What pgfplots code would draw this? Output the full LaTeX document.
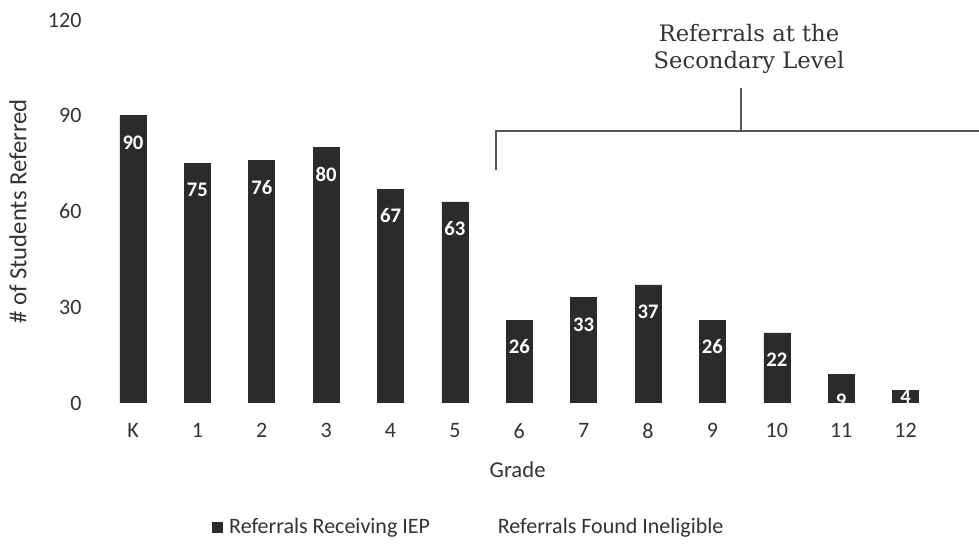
\documentclass[border=0pt]{standalone}
\usepackage{pgfplots}
\pgfplotsset{compat=1.18}
\usepackage{fontspec}
\setmainfont{Carlito}
\newfontfamily\annfont{DejaVu Serif}
\definecolor{barc}{HTML}{2B2B2B}
\definecolor{txt}{HTML}{333333}
\definecolor{brk}{HTML}{555555}
\begin{document}
\begin{tikzpicture}
\useasboundingbox (0,0) rectangle (734.25pt,411.75pt);
\begin{axis}[
 at={(75.6pt,109.5pt)}, anchor=south west,
 scale only axis, width=627.75pt, height=287.25pt,
 ybar, bar width=19.5pt, bar shift=0pt,
 xmin=-0.5, xmax=12.5, ymin=0, ymax=120,
 ytick={0,30,60,90,120},
 xtick={0,...,12},
 xticklabels={K,1,2,3,4,5,6,7,8,9,10,11,12},
 axis line style={draw=none},
 major tick length=0pt,
 /pgf/number format/assume math mode=true,
 tick label style={font=\fontsize{16.5}{19}\selectfont, text=txt},
 yticklabel style={xshift=-11pt},
 xticklabel style={yshift=-12pt},
 xlabel={Grade}, ylabel={\# of Students Referred},
 xlabel style={font=\fontsize{17}{20}\selectfont, text=txt, at={(axis description cs:0.498,-0.175)}, anchor=center},
 ylabel style={font=\fontsize{18.5}{21}\selectfont, text=txt, at={(axis description cs:-0.099,0.5)}, anchor=center},
 legend style={draw=none, at={(0.44,-0.324)}, anchor=center, legend columns=2,
   font=\fontsize{16.5}{19}\selectfont, text=txt,
   /tikz/every odd column/.append style={column sep=3pt},
   /tikz/every even column/.append style={column sep=36pt}},
 nodes near coords,
 every node near coord/.append style={font=\bfseries\fontsize{15.5}{18}\selectfont, text=white, anchor=center, yshift=-20pt},
]
\addplot[fill=barc, draw=barc,
  legend image code/.code={\fill[barc] (0pt,-3.75pt) rectangle (7.5pt,3.75pt);}]
  coordinates {(0,90)(1,75)(2,76)(3,80)(4,67)(5,63)(6,26)(7,33)(8,37)(9,26)(10,22)(11,9)};
\addlegendentry{Referrals Receiving IEP}
\addplot[fill=barc, draw=barc, forget plot,
  every node near coord/.append style={yshift=15pt}]
  coordinates {(12,4)};
\addlegendimage{legend image code/.code={\fill[white] (0pt,-3.75pt) rectangle (7.5pt,3.75pt);}}
\addlegendentry{Referrals Found Ineligible}
\end{axis}
\begin{scope}[x=0.75pt,y=-0.75pt,yshift=411.75pt]
\draw[brk, line width=1.1pt] (496,170) -- (496,131) -- (979,131);
\draw[brk, line width=1.1pt] (741,131) -- (741,88);
\node[font=\annfont\fontsize{17}{20.5}\selectfont, text=txt, align=center] at (749,49) {Referrals at the\\Secondary Level};
\end{scope}
\end{tikzpicture}
\end{document}
